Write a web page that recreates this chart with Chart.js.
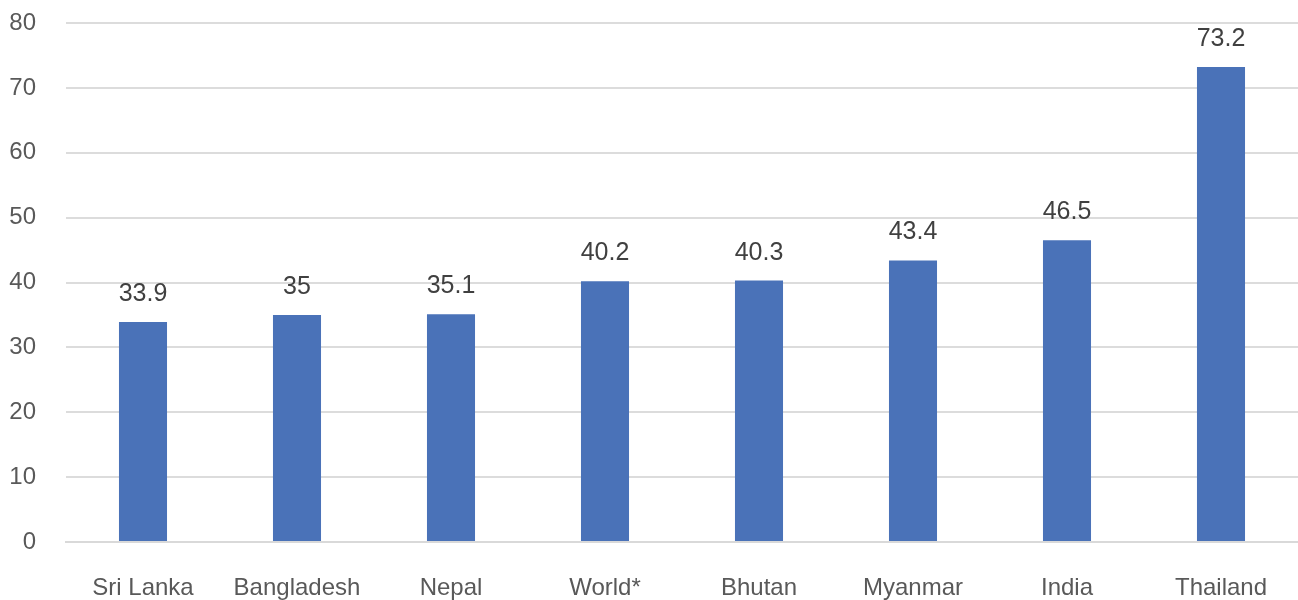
<!DOCTYPE html>
<html>
<head>
<meta charset="utf-8">
<script src="https://cdn.jsdelivr.net/npm/chart.js@4"></script>
<style>
  html, body { margin: 0; padding: 0; background: #fff; }
  #wrap { width: 1298px; height: 600px; }
</style>
</head>
<body>
<div id="wrap"><canvas id="chart"></canvas></div>
<script>
// ── Data ─────────────────────────────────────────────────────
const countries = ['Sri Lanka', 'Bangladesh', 'Nepal', 'World*', 'Bhutan', 'Myanmar', 'India', 'Thailand'];
const values    = [33.9, 35, 35.1, 40.2, 40.3, 43.4, 46.5, 73.2];

const FONT = '"Liberation Sans", Arial, sans-serif';

// ── Value labels above bars ──────────────────────────────────
const barLabels = {
    id: 'barLabels',
    afterDatasetsDraw(chart) {
        const ctx = chart.ctx;
        const meta = chart.getDatasetMeta(0);
        ctx.save();
        ctx.font = '25px ' + FONT;
        ctx.fillStyle = '#404040';
        ctx.textAlign = 'center';
        ctx.textBaseline = 'alphabetic';
        meta.data.forEach((bar, i) => {
            ctx.fillText(String(values[i]), bar.x, bar.y - 21);
        });
        ctx.restore();
    }
};

new Chart(document.getElementById('chart'), {
    type: 'bar',
    data: {
        labels: countries,
        datasets: [{
            data: values,
            backgroundColor: '#4a72b8',
            categoryPercentage: 1,
            barPercentage: 0.312,
        }]
    },
    options: {
        responsive: true,
        maintainAspectRatio: false,
        animation: false,
        layout: { padding: { top: 23, right: 0, left: 0, bottom: 0 } },
        plugins: {
            legend: { display: false },
            tooltip: { enabled: false }
        },
        scales: {
            y: {
                min: 0,
                max: 80,
                ticks: {
                    stepSize: 10,
                    padding: 30,
                    color: '#595959',
                    font: { size: 24, family: FONT }
                },
                grid: { color: '#dcdcdc', lineWidth: 2, drawTicks: false },
                border: { display: false },
                afterFit(scale) {
                    scale.width = 66;
                    scale.paddingTop = 0;
                    scale.paddingBottom = 0;
                }
            },
            x: {
                ticks: {
                    padding: 32,
                    color: '#595959',
                    font: { size: 24, family: FONT }
                },
                grid: { display: false, drawTicks: false },
                border: { color: '#d9d9d9', width: 2 },
                afterFit(scale) {
                    scale.height = 58;
                    scale.paddingLeft = 0;
                    scale.paddingRight = 0;
                }
            }
        }
    },
    plugins: [barLabels]
});
</script>
</body>
</html>
